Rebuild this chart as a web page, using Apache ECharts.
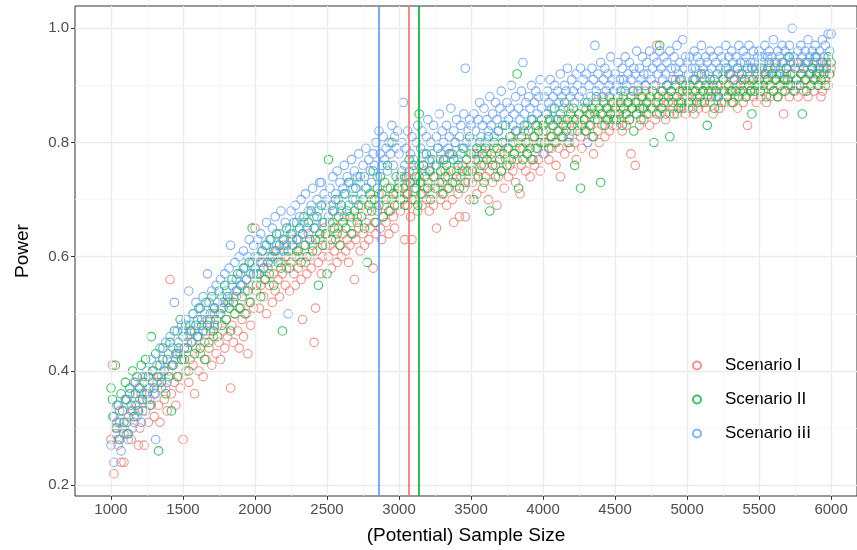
<!DOCTYPE html>
<html>
<head>
<meta charset="utf-8">
<script src="https://cdn.jsdelivr.net/npm/echarts@6/dist/echarts.min.js"></script>
<style>
  html, body { margin: 0; padding: 0; background: #fff; }
  #main { width: 857px; height: 550px; }
</style>
</head>
<body>
<div id="main"></div>
<script>
// sample sizes run from 1000 to 6000 in steps of 10
var sizeStart = 1000;
var sizeStep = 10;

// power values in hundredths, one row per 500 of sample size
var powerI = [
  28,41,22,29,31,27,33,24,30,24,35,29,32,36,28,33,31,38,34,27,30,36,33,27,39,35,31,37,34,40,32,36,38,34,31,39,42,35,37,33,40,56,36,41,38,34,43,39,37,42,
  28,44,40,45,38,42,47,41,36,44,46,40,43,48,39,45,42,49,44,47,41,46,50,43,48,45,42,51,47,44,49,46,52,37,48,45,50,53,47,44,51,49,46,54,50,43,52,48,55,51,
  65,54,57,51,55,59,53,56,50,58,55,60,52,57,54,61,56,53,59,57,62,55,58,60,54,59,63,57,55,61,58,60,56,49,62,59,57,64,60,58,62,45,51,61,59,63,57,60,65,62,
  64,60,62,58,66,61,63,59,65,62,60,64,67,61,63,59,62,66,64,56,63,67,65,61,69,64,62,66,68,63,65,70,58,66,64,68,71,65,63,67,69,66,72,64,68,70,67,65,71,69,
  72,68,74,70,63,71,69,73,67,63,75,70,72,68,74,71,69,76,72,70,73,68,75,71,69,74,65,72,77,70,73,71,75,69,74,72,78,70,66,73,75,71,67,74,76,72,67,75,73,70,
  76,73,78,74,71,77,75,79,72,76,74,78,70,75,77,73,79,76,69,74,78,75,80,72,77,79,74,76,81,75,78,73,77,80,71,76,79,82,75,78,80,74,77,81,76,79,83,77,75,80,
  82,78,80,84,77,81,79,83,80,76,82,79,74,84,81,78,83,80,86,79,82,84,80,77,83,85,81,79,84,82,86,80,83,85,81,78,84,87,82,80,85,83,88,81,84,86,82,85,83,87,
  85,83,87,84,86,82,88,85,83,87,84,78,86,89,76,85,87,83,88,86,84,89,85,87,83,88,86,90,84,97,87,85,89,86,88,84,90,87,85,89,86,88,91,85,87,89,86,90,88,85,
  88,86,90,87,89,85,91,88,86,90,87,89,92,86,88,90,87,89,85,91,88,90,86,86,89,91,87,90,88,92,89,87,91,88,90,86,92,89,91,87,90,88,83,91,89,93,88,90,87,92,
  90,88,92,89,91,87,93,90,88,92,89,91,94,88,90,92,89,85,91,93,90,88,92,90,94,89,91,88,93,90,92,89,94,91,88,92,90,93,89,91,94,90,92,88,89,93,91,94,90,92,
  93
];
var powerII = [
  37,35,32,41,30,34,28,36,33,31,38,35,29,37,34,40,32,36,39,33,37,41,35,38,42,36,39,34,46,40,37,43,39,26,41,38,44,40,36,42,39,45,33,41,47,43,39,44,49,42,
  46,42,48,44,40,47,45,50,43,48,46,51,44,49,47,42,52,48,45,50,53,47,51,49,46,54,50,48,52,55,49,53,51,47,56,52,50,54,57,51,55,53,58,50,56,54,59,52,65,57,
  58,55,60,57,53,61,58,56,62,59,57,63,60,55,61,64,59,62,58,47,63,60,65,61,58,64,62,66,60,63,61,65,59,64,67,62,60,66,63,68,61,65,63,67,55,64,69,62,66,64,
  57,77,66,63,68,65,70,64,67,62,69,66,71,65,68,73,67,64,70,68,72,66,69,74,67,70,65,72,59,69,71,68,75,70,66,72,69,74,71,67,73,70,76,68,72,80,71,69,74,72,
  73,70,75,72,69,74,71,77,73,70,76,72,74,69,85,73,71,76,74,78,72,75,70,77,74,72,76,79,73,75,71,77,74,76,72,78,75,73,77,80,74,76,72,78,75,79,73,77,75,81,
  78,75,70,77,79,74,80,76,78,73,79,77,81,68,78,76,80,74,79,82,77,75,80,78,83,76,79,81,77,80,78,82,92,72,79,81,77,83,80,78,82,79,84,77,81,83,79,82,80,84,
  83,80,82,85,79,84,81,83,86,80,84,82,85,81,83,87,82,84,80,85,83,86,76,84,82,85,72,83,86,84,82,87,85,83,86,81,85,88,84,86,73,85,87,83,86,84,88,85,87,84,
  86,84,88,85,87,83,86,89,85,87,84,88,86,82,87,85,89,86,84,88,86,90,87,85,88,86,89,80,87,85,88,97,86,89,87,85,90,88,81,89,87,85,90,88,86,91,87,89,86,90,
  89,87,90,88,86,91,89,87,90,88,92,89,87,90,83,89,91,88,90,86,89,92,88,90,87,91,89,93,88,90,92,89,87,91,89,93,88,90,92,89,91,88,93,90,89,85,91,89,93,90,
  91,89,93,90,92,88,91,94,90,92,89,93,91,88,92,90,94,91,89,93,91,95,90,92,89,93,91,94,90,92,85,93,91,89,94,92,90,93,91,95,92,90,93,91,94,92,90,93,95,92,
  94
];
var powerIII = [
  27,32,24,30,34,28,31,26,33,29,35,31,28,36,33,30,38,34,32,37,35,31,39,36,33,40,37,35,42,38,36,28,41,39,44,37,42,40,45,38,43,46,41,44,52,42,47,45,43,48,
  47,44,49,46,54,48,45,50,47,52,49,46,51,48,53,50,47,57,52,49,54,51,48,55,52,50,56,53,51,57,54,52,58,62,55,53,59,56,54,60,57,55,61,58,56,60,63,57,59,62,
  60,57,63,59,64,61,58,62,66,60,63,59,65,61,67,62,60,64,68,63,61,66,62,50,65,68,64,62,69,66,63,67,70,64,66,71,65,68,63,69,72,67,65,70,68,73,73,66,71,69,
  70,67,72,69,74,68,71,75,70,73,68,72,76,71,74,69,73,77,72,75,70,74,78,73,71,76,74,79,72,77,75,73,78,76,80,74,82,78,76,81,77,79,75,80,78,83,76,81,79,82,
  78,74,80,87,76,79,82,75,78,81,77,73,80,83,76,79,82,78,75,81,84,77,80,78,83,76,81,79,85,78,82,80,77,83,79,81,86,78,82,80,84,77,81,83,79,85,93,80,82,84,
  83,80,85,82,78,84,87,81,83,86,80,84,82,88,83,85,81,87,84,82,86,89,83,85,80,87,84,86,90,83,85,88,82,86,84,89,94,85,87,83,88,86,90,84,87,89,85,88,91,86,
  78,88,85,89,87,91,86,88,90,84,89,87,92,88,86,90,89,93,81,88,91,89,87,92,90,88,93,89,91,87,92,80,90,88,93,91,97,89,92,90,94,88,91,93,89,92,90,95,91,89,
  92,90,94,91,89,93,91,95,90,92,94,91,89,93,92,96,90,93,91,95,92,90,94,92,96,91,93,95,90,94,92,96,93,91,95,92,94,90,96,93,91,95,93,97,92,94,91,98,93,95,
  94,92,95,93,91,96,93,95,92,94,97,93,91,95,94,92,96,93,95,91,94,88,96,93,95,92,94,97,93,95,92,96,94,91,95,93,97,94,92,96,94,95,92,97,94,93,96,94,92,95,
  96,93,95,94,97,92,95,96,93,95,98,94,92,96,95,93,97,94,96,92,95,97,94,100,95,93,90,96,94,97,95,93,96,94,98,95,92,96,94,97,95,93,96,94,98,95,97,93,99,96,
  99
];

var scenarios = ['Scenario I', 'Scenario II', 'Scenario III'];
var colors = ['#F8766D', '#00BA38', '#619CFF'];
// sample size where each scenario's vertical line sits
var cutoffs = [3065, 3135, 2860];

var xTicks = [1000, 1500, 2000, 2500, 3000, 3500, 4000, 4500, 5000, 5500, 6000];
var xMinor = [1250, 1750, 2250, 2750, 3250, 3750, 4250, 4750, 5250, 5750];
var yTicks = [0.2, 0.4, 0.6, 0.8, 1.0];
var yMinor = [0.3, 0.5, 0.7, 0.9];

function toPoints(arr) {
  return arr.map(function (v, i) { return [sizeStart + sizeStep * i, v / 100]; });
}

var gridLines = [];
xMinor.forEach(function (v) { gridLines.push({ xAxis: v, lineStyle: { color: '#F4F4F4', width: 0.7 } }); });
yMinor.forEach(function (v) { gridLines.push({ yAxis: v, lineStyle: { color: '#F4F4F4', width: 0.7 } }); });
xTicks.forEach(function (v) { gridLines.push({ xAxis: v, lineStyle: { color: '#EBEBEB', width: 1.3 } }); });
yTicks.forEach(function (v) { gridLines.push({ yAxis: v, lineStyle: { color: '#EBEBEB', width: 1.3 } }); });

var allPower = [powerI, powerII, powerIII];
var series = [{
  name: 'grid',
  type: 'scatter',
  data: [],
  silent: true,
  z: 0,
  markLine: {
    silent: true,
    symbol: 'none',
    label: { show: false },
    lineStyle: { type: 'solid' },
    data: gridLines
  }
}];
scenarios.forEach(function (name, k) {
  series.push({
    name: name,
    type: 'scatter',
    data: toPoints(allPower[k]),
    symbol: 'circle',
    symbolSize: 8.5,
    z: 2,
    itemStyle: { color: 'transparent', borderColor: colors[k], borderWidth: 1.1 },
    markLine: {
      silent: true,
      symbol: 'none',
      label: { show: false },
      lineStyle: { color: colors[k], width: 1.7, type: 'solid' },
      data: [{ xAxis: cutoffs[k] }]
    }
  });
});

var font = 'Liberation Sans';

var myChart = echarts.init(document.getElementById('main'), null, { renderer: 'canvas' });
var option = {
  animation: false,
  backgroundColor: '#fff',
  grid: {
    left: 75, top: 6, right: 0, height: 491,
    show: true, borderColor: '#333333', borderWidth: 1, backgroundColor: 'transparent'
  },
  legend: {
    data: scenarios,
    orient: 'vertical',
    left: 670, top: 345,
    padding: [12, 14, 12, 22],
    backgroundColor: '#fff',
    itemWidth: 28, itemHeight: 8, itemGap: 17,
    textStyle: { color: '#000', fontSize: 17, fontFamily: font, padding: [0, 0, 0, 9] }
  },
  xAxis: {
    type: 'value', min: 750, max: 6180,
    name: '(Potential) Sample Size', nameLocation: 'middle', nameGap: 30,
    nameTextStyle: { color: '#000', fontSize: 19, fontFamily: font },
    axisLine: { show: false },
    axisTick: { show: true, customValues: xTicks, length: 4, lineStyle: { color: '#333333' } },
    axisLabel: {
      customValues: xTicks, margin: 6, color: '#4D4D4D', fontSize: 15, fontFamily: font,
      formatter: function (v) { return String(v); }
    },
    splitLine: { show: false }
  },
  yAxis: {
    type: 'value', min: 0.181, max: 1.039,
    name: 'Power', nameLocation: 'middle', nameGap: 43, nameRotate: 90,
    nameTextStyle: { color: '#000', fontSize: 19, fontFamily: font },
    axisLine: { show: false },
    axisTick: { show: true, customValues: yTicks, length: 4, lineStyle: { color: '#333333' } },
    axisLabel: {
      customValues: yTicks, margin: 6, color: '#4D4D4D', fontSize: 15, fontFamily: font,
      formatter: function (v) { return v.toFixed(1); }
    },
    splitLine: { show: false }
  },
  series: series
};
myChart.setOption(option);
</script>
</body>
</html>
